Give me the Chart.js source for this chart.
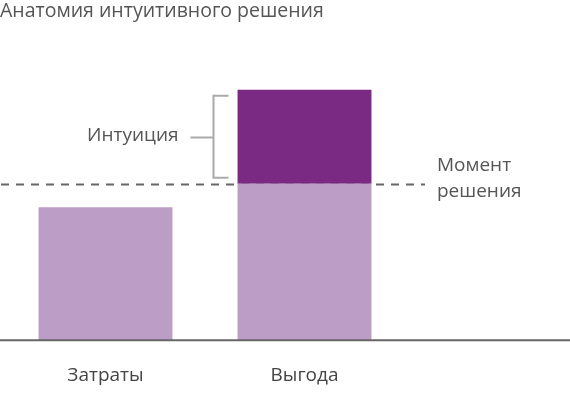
<!DOCTYPE html>
<html>
<head>
<meta charset="utf-8">
<script src="https://cdn.jsdelivr.net/npm/chart.js@4"></script>
<style>
  html, body { margin:0; padding:0; background:#fff; }
  #wrap { width:570px; height:395px; position:relative; }
</style>
</head>
<body>
<div id="wrap"><canvas id="chart"></canvas></div>
<script>
// data
const categories = ['Затраты', 'Выгода'];
const baseValues = [4.25, 5];      // затраты / выгода до момента решения
const intuitionValues = [0, 3];    // интуиция сверху
const momentValue = 5;             // момент решения (пунктир)
const titleText = 'Анатомия интуитивного решения';
const bracketLabel = 'Интуиция';
const momentLabel = ['Момент', 'решения'];

const FONT = "'Open Sans', sans-serif";
const GRAY = '#555';

// extra drawing: baseline, dashed line, bracket and labels
const annotate = {
  id: 'annotate',
  beforeDatasetsDraw(chart) {
    const ctx = chart.ctx, y = chart.scales.y;
    const yMoment = Math.round(y.getPixelForValue(momentValue)) + 0.5;
    ctx.save();
    ctx.strokeStyle = '#666';
    ctx.lineWidth = 2;
    ctx.setLineDash([8, 7]);
    ctx.beginPath();
    ctx.moveTo(1, yMoment);
    ctx.lineTo(425, yMoment);
    ctx.stroke();
    ctx.restore();
  },
  afterDatasetsDraw(chart) {
    const ctx = chart.ctx, y = chart.scales.y;
    const y0 = y.getPixelForValue(0);
    ctx.save();
    // baseline
    ctx.strokeStyle = '#666';
    ctx.lineWidth = 2;
    ctx.beginPath();
    ctx.moveTo(0, y0);
    ctx.lineTo(chart.width, y0);
    ctx.stroke();

    // bracket next to the intuition bar
    const bar = chart.getDatasetMeta(1).data[1];
    const left = bar.x - bar.width / 2;
    const top = bar.y + 6, bottom = bar.base - 6;
    const bx = Math.round(left - 25) + 0.5;
    const mid = Math.round((top + bottom) / 2) + 0.5;
    ctx.strokeStyle = '#aaa';
    ctx.lineWidth = 2;
    ctx.beginPath();
    ctx.moveTo(left - 9, top);
    ctx.lineTo(bx, top);
    ctx.lineTo(bx, bottom);
    ctx.lineTo(left - 9, bottom);
    ctx.moveTo(bx, mid);
    ctx.lineTo(bx - 23, mid);
    ctx.stroke();

    ctx.fillStyle = GRAY;
    ctx.font = '19px ' + FONT;
    ctx.textBaseline = 'middle';
    ctx.textAlign = 'right';
    ctx.fillText(bracketLabel, bx - 35, mid - 2);

    // moment label
    const yMoment = y.getPixelForValue(momentValue);
    ctx.textAlign = 'left';
    ctx.fillText(momentLabel[0], 437, yMoment - 18);
    ctx.fillText(momentLabel[1], 437, yMoment + 8);
    ctx.restore();
  }
};

new Chart(document.getElementById('chart'), {
  type: 'bar',
  data: {
    labels: categories,
    datasets: [
      { label: 'База', data: baseValues, backgroundColor: '#bb9dc6' },
      { label: 'Интуиция', data: intuitionValues, backgroundColor: '#7b2a84' }
    ]
  },
  options: {
    responsive: true,
    maintainAspectRatio: false,
    animation: false,
    layout: { padding: { left: 0, right: 166, top: 0, bottom: -16 } },
    datasets: { bar: { categoryPercentage: 1, barPercentage: 0.673 } },
    plugins: {
      legend: { display: false },
      tooltip: { enabled: false },
      title: {
        display: true,
        text: titleText,
        align: 'start',
        color: GRAY,
        font: { family: FONT, size: 19.5, weight: 'normal' },
        padding: { top: 0, bottom: 35 }
      }
    },
    scales: {
      x: {
        stacked: true,
        grid: { display: false, drawTicks: false },
        border: { display: false },
        ticks: { color: '#444', font: { family: FONT, size: 19 }, padding: 24 }
      },
      y: {
        stacked: true,
        min: 0,
        max: 9,
        grid: { display: false, drawTicks: false },
        border: { display: false },
        ticks: { display: false },
        afterFit(scale) { scale.width = 6; }
      }
    }
  },
  plugins: [annotate]
});
</script>
</body>
</html>
